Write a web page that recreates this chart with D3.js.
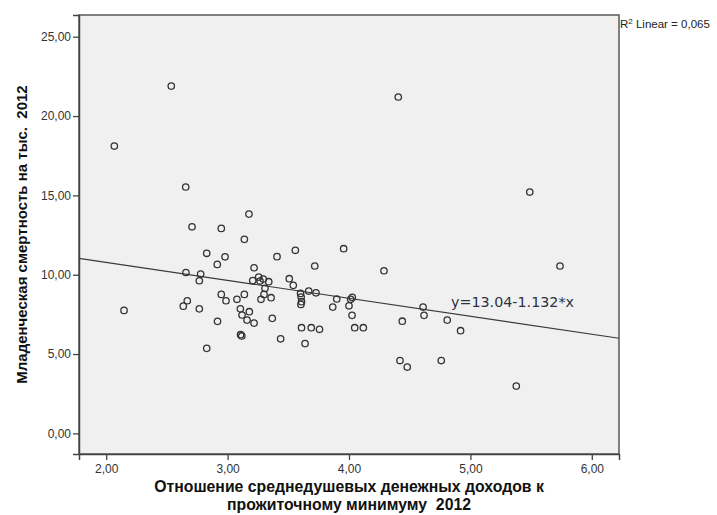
<!DOCTYPE html>
<html><head><meta charset="utf-8">
<script src="https://cdn.jsdelivr.net/npm/d3@7"></script>
<style>html,body{margin:0;padding:0;background:#fff;}svg{display:block;}text{white-space:pre;}</style>
</head><body>
<svg id="chart" width="717" height="515"></svg>
<script>
const xValues = [2.067,2.536,2.147,2.655,2.707,2.948,3.176,3.138,2.828,2.979,2.915,3.407,3.558,3.956,3.718,4.288,3.218,2.657,2.778,2.767,3.207,3.256,3.294,3.339,3.267,3.308,3.300,3.275,3.358,3.508,3.541,3.601,3.606,3.609,3.604,3.668,3.728,3.899,3.866,4.000,4.027,4.014,4.025,2.668,2.635,2.767,2.948,2.987,3.077,3.138,3.105,3.179,3.119,3.160,3.218,2.917,3.368,3.609,3.689,3.757,4.047,4.118,3.107,3.117,3.437,3.638,2.828,4.439,4.610,4.618,4.809,4.919,4.420,4.480,4.760,4.406,5.489,5.738,5.378];
const yValues = [18.11,21.89,7.75,15.53,13.02,12.92,13.82,12.23,11.35,11.13,10.65,11.14,11.54,11.64,10.55,10.25,10.44,10.14,10.04,9.62,9.63,9.85,9.73,9.56,9.60,9.14,8.76,8.45,8.55,9.75,9.33,8.82,8.59,8.30,8.13,8.97,8.86,8.47,7.96,8.04,8.57,8.45,7.44,8.36,8.02,7.85,8.76,8.36,8.45,8.76,7.85,7.67,7.46,7.14,6.95,7.06,7.25,6.66,6.66,6.56,6.66,6.66,6.22,6.14,5.96,5.66,5.36,7.07,7.96,7.44,7.14,6.47,4.59,4.18,4.59,21.20,15.21,10.55,2.98];
const xTicks = [2, 3, 4, 5, 6];
const yTicks = [0, 5, 10, 15, 20, 25];
const fitIntercept = 13.04;
const fitSlope = -1.132;
const equationText = "y=13.04-1.132*x";
const r2Text = "0,065";
const xTitleLines = ["Отношение среднедушевых денежных доходов к", "прожиточному минимуму  2012"];
const yTitle = "Младенческая смертность на тыс.  2012";

const fmt = d => d.toFixed(2).replace(".", ",");
const svg = d3.select("#chart");
const L = 79, R = 619, T = 15, B = 454;
const x = d3.scaleLinear().domain([1.776, 6.224]).range([L, R]);
const y = d3.scaleLinear().domain([-1.30, 26.37]).range([B, T]);

svg.append("rect").attr("x", L).attr("y", T).attr("width", R - L).attr("height", B - T)
  .attr("fill", "#f0f0f0").attr("stroke", "#5a5a5a").attr("stroke-width", 1.5);

const xAxis = svg.append("g").attr("transform", `translate(0,${B})`)
  .call(d3.axisBottom(x).tickValues(xTicks).tickFormat(fmt).tickSize(6).tickPadding(4));
const yAxis = svg.append("g").attr("transform", `translate(${L},0)`)
  .call(d3.axisLeft(y).tickValues(yTicks).tickFormat(fmt).tickSize(6).tickPadding(2));
[xAxis, yAxis].forEach(g => {
  g.select(".domain").attr("stroke", "#444").attr("stroke-width", 1.5);
  g.selectAll(".tick line").attr("stroke", "#444").attr("stroke-width", 1.3);
  g.selectAll(".tick text").attr("fill", "#333").attr("font-family", "Liberation Sans, Arial, sans-serif").attr("font-size", 12);
});

const xd = x.domain();
svg.append("line")
  .attr("x1", x(xd[0])).attr("y1", y(fitIntercept + fitSlope * xd[0]))
  .attr("x2", x(xd[1])).attr("y2", y(fitIntercept + fitSlope * xd[1]))
  .attr("stroke", "#3a3a3a").attr("stroke-width", 1.1);

svg.append("g").selectAll("circle").data(xValues.map((v, i) => [v, yValues[i]])).join("circle")
  .attr("cx", d => x(d[0])).attr("cy", d => y(d[1])).attr("r", 3.2)
  .attr("fill", "none").attr("stroke", "#333").attr("stroke-width", 1.3);

svg.append("text").attr("x", x(4.84)).attr("y", y(7.96))
  .attr("font-family", "DejaVu Sans, sans-serif").attr("font-size", 14.3).attr("fill", "#2d3240")
  .text(equationText);

const r2 = svg.append("text").attr("x", R + 1).attr("y", 28)
  .attr("font-family", "Liberation Sans, Arial, sans-serif").attr("font-size", 11.5).attr("fill", "#222");
r2.append("tspan").text("R");
r2.append("tspan").attr("font-size", 8).attr("dy", -4).text("2");
r2.append("tspan").attr("dy", 4).text(" Linear = " + r2Text);

const xt = svg.append("g")
  .attr("font-family", "Liberation Sans, Arial, sans-serif").attr("font-weight", "bold").attr("font-size", 15.8).attr("fill", "#111");
xTitleLines.forEach((t, i) => xt.append("text").attr("text-anchor", "middle")
  .attr("x", (L + R) / 2).attr("y", 492 + i * 18).text(t));

svg.append("text").attr("text-anchor", "middle")
  .attr("transform", `translate(27,${(T + B) / 2}) rotate(-90)`)
  .attr("font-family", "Liberation Sans, Arial, sans-serif").attr("font-weight", "bold").attr("font-size", 15).attr("fill", "#111")
  .text(yTitle);
</script>
</body></html>
